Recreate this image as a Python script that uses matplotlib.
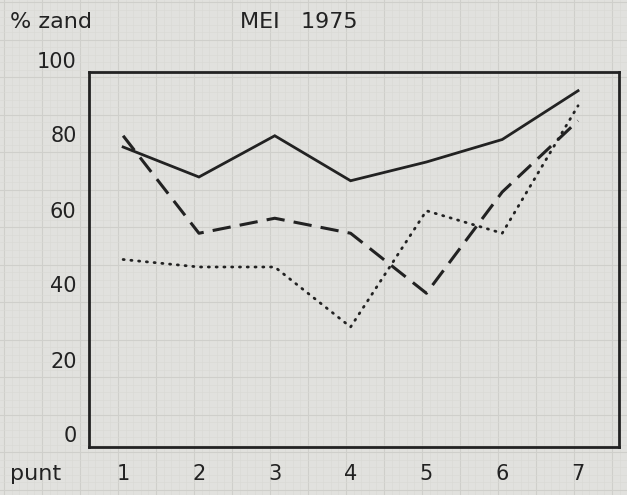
import numpy as np
import matplotlib
matplotlib.use("Agg")
import matplotlib.pyplot as plt
from matplotlib.transforms import ScaledTranslation

# meetpunten en percentage zand per reeks
punten = [1, 2, 3, 4, 5, 6, 7]
zand_a = [80, 72, 83, 71, 76, 82, 95]   # doorgetrokken lijn
zand_b = [83, 57, 61, 57, 41, 68, 87]   # gestreepte lijn
zand_c = [50, 48, 48, 32, 63, 57, 91]   # gestippelde lijn
y_ticks = [0, 20, 40, 60, 80, 100]

paper = "#e1e1de"
ink = "#222222"

fig = plt.figure(figsize=(6.27, 4.95), dpi=100)
fig.patch.set_facecolor(paper)

# millimeterpapier als achtergrond
bg = fig.add_axes([0, 0, 1, 1], zorder=-10)
bg.set_xlim(0, 627)
bg.set_ylim(495, 0)
bg.axis("off")
for i, xv in enumerate(np.arange(4, 627, 7.6)):
    bg.axvline(xv, color="#cfcfcb" if i % 5 == 0 else "#d9d9d5", lw=0.8 if i % 5 == 0 else 0.4)
for i, yv in enumerate(np.arange(2, 495, 7.5)):
    bg.axhline(yv, color="#cfcfcb" if i % 5 == 0 else "#d9d9d5", lw=0.8 if i % 5 == 0 else 0.4)

ax = fig.add_axes([89 / 627, 48 / 495, 530 / 627, 375 / 495])
ax.patch.set_alpha(0)
ax.set_xlim(0.55, 7.54)
ax.set_ylim(0, 100)

ax.plot(punten, zand_a, color=ink, lw=2.0, solid_joinstyle="miter")
ax.plot(punten, zand_b, color=ink, lw=2.2, linestyle=(0, (6, 3)))
ax.plot(punten, zand_c, color=ink, lw=2.0, linestyle=(0, (0.4, 2.4)), dash_capstyle="round")

for s in ax.spines.values():
    s.set_color(ink)
    s.set_linewidth(2.0)

ax.set_xticks(punten)
ax.set_xticklabels([str(p) for p in punten])
ax.set_yticks(y_ticks)
ax.set_yticklabels([str(v) for v in y_ticks])
ax.tick_params(length=0, labelsize=15, labelcolor=ink)
ax.tick_params(axis="x", pad=12)
ax.tick_params(axis="y", pad=9)
# getallen op de y-as staan iets boven de lijnen
for lbl in ax.get_yticklabels():
    lbl.set_transform(lbl.get_transform() + ScaledTranslation(0, 9 / 72, fig.dpi_scale_trans))

fig.text(10 / 627, 1 - 22 / 495, "% zand", fontsize=16, color=ink, va="center", ha="left")
fig.text(240 / 627, 1 - 22 / 495, "MEI   1975", fontsize=16, color=ink, va="center", ha="left")
fig.text(10 / 627, 1 - 474 / 495, "punt", fontsize=16, color=ink, va="center", ha="left")

fig.savefig("out.png", dpi=100, facecolor=paper)
